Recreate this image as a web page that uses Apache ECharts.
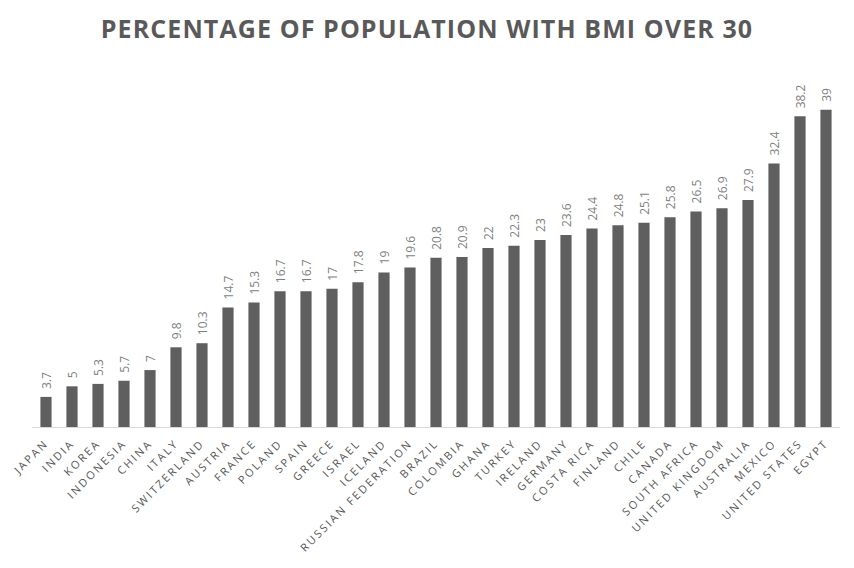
<!DOCTYPE html>
<html><head><meta charset="utf-8">
<script src="https://cdn.jsdelivr.net/npm/echarts@6/dist/echarts.min.js"></script>
<style>html,body{margin:0;padding:0;background:#fff}#c{width:854px;height:568px}
#c text.spaced{letter-spacing:2.2px}</style>
</head><body><div id="c"></div>
<script>
const categories = ["JAPAN","INDIA","KOREA","INDONESIA","CHINA","ITALY","SWITZERLAND","AUSTRIA","FRANCE","POLAND","SPAIN","GREECE","ISRAEL","ICELAND","RUSSIAN FEDERATION","BRAZIL","COLOMBIA","GHANA","TURKEY","IRELAND","GERMANY","COSTA RICA","FINLAND","CHILE","CANADA","SOUTH AFRICA","UNITED KINGDOM","AUSTRALIA","MEXICO","UNITED STATES","EGYPT"];
const values = [3.7,5,5.3,5.7,7,9.8,10.3,14.7,15.3,16.7,16.7,17,17.8,19,19.6,20.8,20.9,22,22.3,23,23.6,24.4,24.8,25.1,25.8,26.5,26.9,27.9,32.4,38.2,39];
const titleText = "PERCENTAGE OF POPULATION WITH BMI OVER 30";
const chart = echarts.init(document.getElementById('c'), null, {renderer:'svg'});
chart.setOption({
  animation:false,
  title:{text:titleText,left:'center',top:10,textStyle:{fontFamily:'Open Sans',fontWeight:'bold',fontSize:25,color:'#595959'}},
  grid:{left:33,right:15,top:61,bottom:141,containLabel:false},
  xAxis:{type:'category',data:categories,
    axisLine:{lineStyle:{color:'#d9d9d9',width:1}},axisTick:{show:false},
    axisLabel:{interval:0,rotate:45,color:'#595959',fontFamily:'Open Sans',fontSize:11,margin:14}},
  yAxis:{type:'value',min:0,max:45,show:false,splitLine:{show:false}},
  series:[{type:'bar',data:values,barWidth:'43%',itemStyle:{color:'#5f5f5f'},
    label:{show:true,position:'top',rotate:90,align:'left',verticalAlign:'middle',distance:8,
      color:'#7f7f7f',fontFamily:'Open Sans',fontSize:12}}]
});
// apply letter spacing to title and category labels (SVG text)
const svgTexts = document.querySelectorAll('#c svg text');
svgTexts.forEach(t => {
  const s = t.textContent;
  if (s === titleText) t.style.letterSpacing = '1.1px';
  else if (categories.indexOf(s) >= 0) t.classList.add('spaced');
});
</script></body></html>
